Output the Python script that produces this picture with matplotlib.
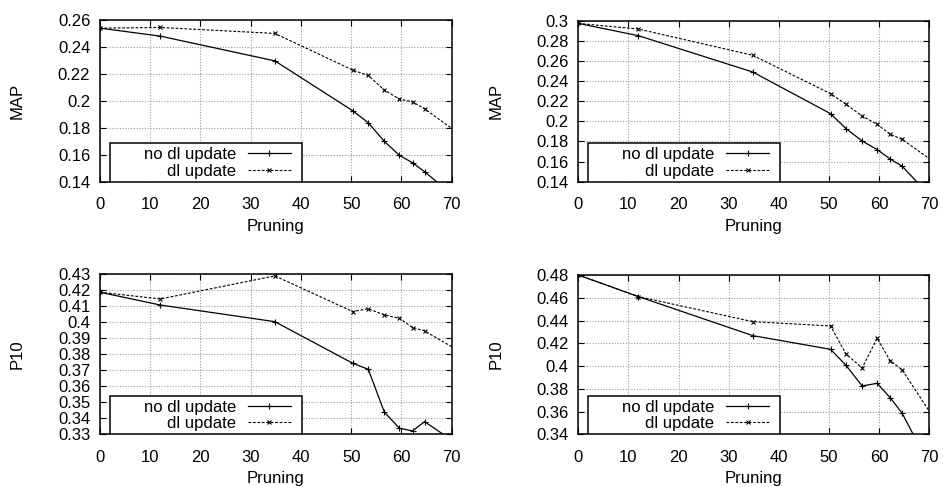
import numpy as np
import matplotlib.pyplot as plt
from matplotlib.patches import Rectangle
from matplotlib.ticker import FuncFormatter

plt.rcParams['font.family'] = ['Liberation Sans', 'DejaVu Sans']

# Pruning levels (last point lies outside the visible range)
pruning = [0, 12, 34.8, 50.3, 53.4, 56.6, 59.6, 62.2, 64.6, 72]

# MAP, first collection
map1_no_dl = [0.2536, 0.2477, 0.2294, 0.1925, 0.1836, 0.1698, 0.1595, 0.154, 0.1474, 0.1246]
map1_dl = [0.2536, 0.2541, 0.2497, 0.2226, 0.2186, 0.2078, 0.2011, 0.1991, 0.194, 0.174]

# MAP, second collection
map2_no_dl = [0.2973, 0.2851, 0.249, 0.2076, 0.1927, 0.1805, 0.1719, 0.1626, 0.1553, 0.1162]
map2_dl = [0.2973, 0.2917, 0.2656, 0.2275, 0.2169, 0.2053, 0.197, 0.1871, 0.1821, 0.1557]

# P10, first collection
p10_1_no_dl = [0.4188, 0.4108, 0.4004, 0.3744, 0.3706, 0.3438, 0.3338, 0.3321, 0.3379, 0.3221]
p10_1_dl = [0.4188, 0.4146, 0.429, 0.4067, 0.4085, 0.4046, 0.4025, 0.3967, 0.3946, 0.3811]

# P10, second collection
p10_2_no_dl = [0.48, 0.461, 0.4267, 0.4147, 0.4006, 0.3825, 0.3848, 0.3722, 0.3584, 0.296]
p10_2_dl = [0.48, 0.461, 0.439, 0.4352, 0.4106, 0.3983, 0.4243, 0.4047, 0.3965, 0.3468]

panels = [
    ('MAP', map1_no_dl, map1_dl, (0.14, 0.26), 0.02),
    ('MAP', map2_no_dl, map2_dl, (0.14, 0.30), 0.02),
    ('P10', p10_1_no_dl, p10_1_dl, (0.33, 0.43), 0.01),
    ('P10', p10_2_no_dl, p10_2_dl, (0.34, 0.48), 0.02),
]

W, H = 943, 487
FS = 12
fig = plt.figure(figsize=(W / 100, H / 100), dpi=100)

# axes boxes in pixels: left, top, right, bottom
boxes = [
    (100, 19.5, 451.7, 181.7),
    (578.3, 20.7, 929.3, 181.7),
    (100, 274.3, 451.7, 434.3),
    (578.3, 275, 929.3, 434.3),
]

fmt = FuncFormatter(lambda v, p: '%g' % round(v, 4))

for (ylab, no_dl, dl, ylim, ystep), (l, t, r, b) in zip(panels, boxes):
    aw, ah = r - l, b - t
    ax = fig.add_axes([l / W, 1 - b / H, aw / W, ah / H])
    ax.plot(pruning, no_dl, color='black', lw=0.9, marker='+', ms=4, mew=0.8,
            label='no dl update')
    ax.plot(pruning, dl, color='black', lw=0.8, ls=(0, (2.5, 1.5)), marker='x', ms=3.5,
            mew=0.8, label='dl update')
    ax.set_xlim(0, 70)
    ax.set_ylim(*ylim)
    ax.set_xticks(np.arange(0, 71, 10))
    ax.set_yticks(np.arange(ylim[0], ylim[1] + ystep / 2, ystep))
    ax.yaxis.set_major_formatter(fmt)
    ax.grid(True, color='#999999', ls=(0, (1, 1.5)), lw=0.8)
    ax.tick_params(direction='in', top=True, right=True, labelsize=FS, length=4)
    ax.tick_params(axis='x', pad=11)
    ax.tick_params(axis='y', pad=7)
    for s in ax.spines.values():
        s.set_linewidth(1.1)
    ax.set_ylabel(ylab, fontsize=FS)
    ax.set_xlabel('Pruning', fontsize=FS)
    ax.yaxis.set_label_coords(-75 / aw, 0.5)
    ax.xaxis.set_label_coords(0.5, -37 / ah)

    # gnuplot style key: fixed box, right aligned entries
    box = Rectangle((10 / aw, 0), 192 / aw, 38.5 / ah, transform=ax.transAxes,
                    facecolor='white', edgecolor='black', lw=1.1, zorder=4.9)
    ax.add_patch(box)
    ax.legend(loc='lower right', bbox_to_anchor=((202 - 11) / aw, 3 / ah), borderaxespad=0,
              markerfirst=False, frameon=False, fontsize=FS, handlelength=2.6,
              labelspacing=0.1, borderpad=0, handletextpad=0.7)

fig.savefig('out.png', dpi=100)
